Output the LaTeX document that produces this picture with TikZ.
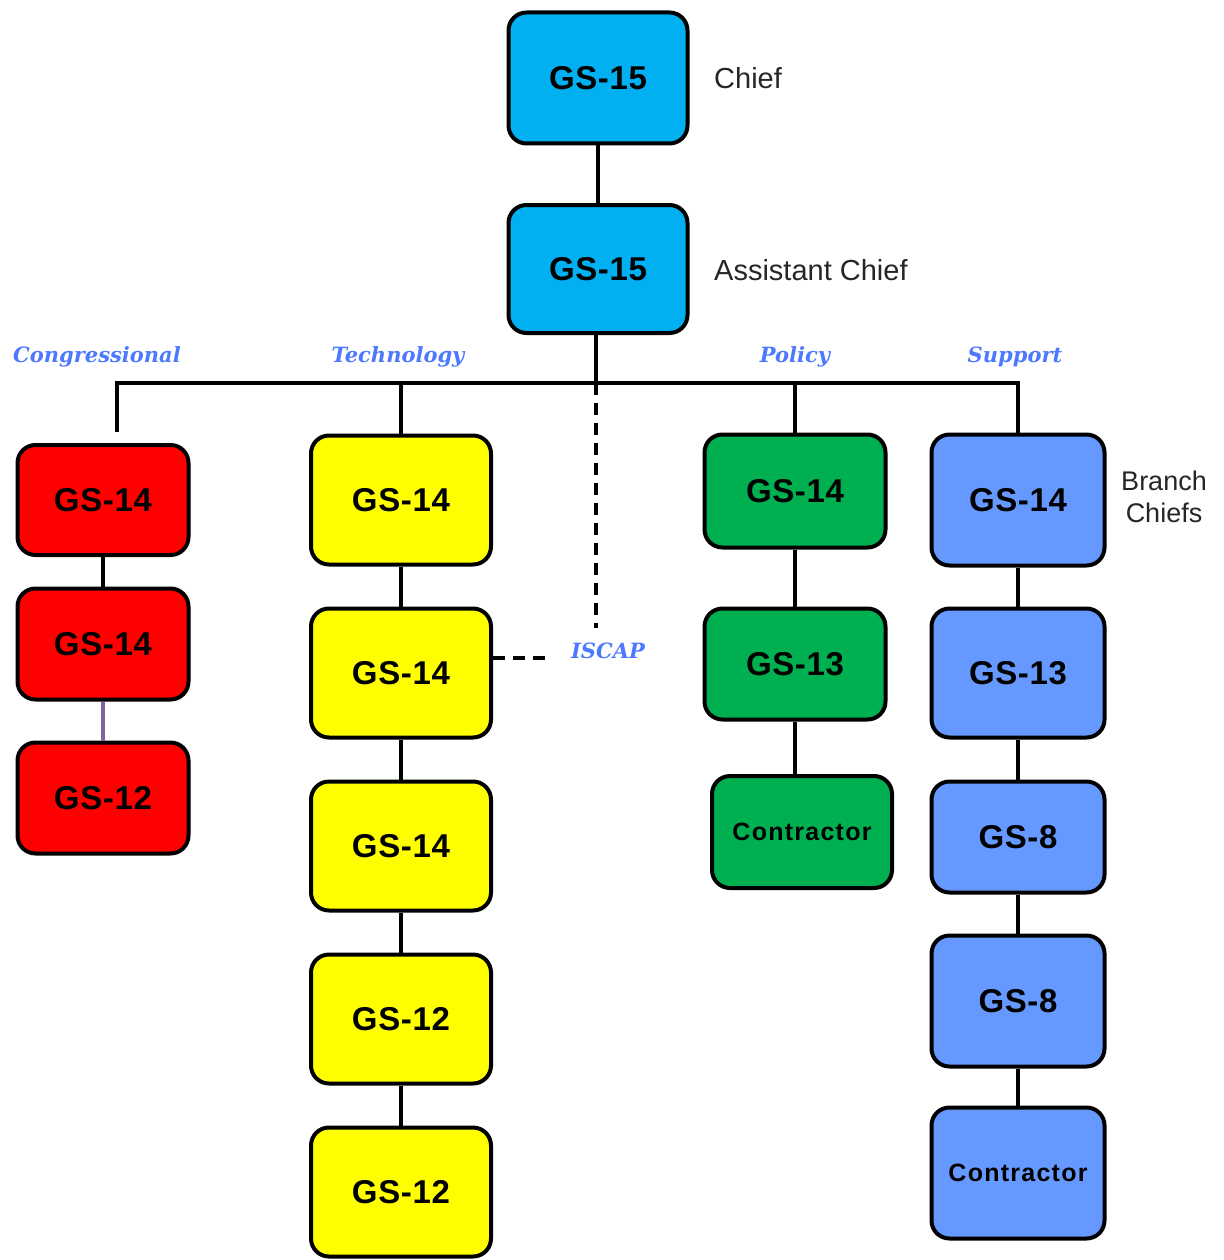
\documentclass[tikz,border=0pt]{standalone}
\usepackage{fontspec}
\setmainfont{Liberation Sans}
\newfontfamily\headfont{DejaVu Serif}
\usetikzlibrary{calc}
\definecolor{chiefblue}{HTML}{00B0F0}
\definecolor{cred}{HTML}{FF0000}
\definecolor{cyellow}{HTML}{FFFF00}
\definecolor{cgreen}{HTML}{00B050}
\definecolor{cblue}{HTML}{6699FF}
\definecolor{headblue}{HTML}{4D79FF}
\definecolor{lilac}{HTML}{8064A2}
\definecolor{labelgray}{HTML}{262626}
\begin{document}
\begin{tikzpicture}[x=1pt,y=-1pt,
  gradebox/.style={draw=black, line width=4pt, rounded corners=18pt,
    inner sep=0pt, align=center,
    font=\fontsize{33}{38}\selectfont\bfseries\addfontfeature{LetterSpace=2}},
  smalltext/.style={font=\fontsize{25}{30}\selectfont\bfseries\addfontfeature{LetterSpace=5}},
  link/.style={line width=4pt, black},
  dashlink/.style={line width=4pt, black, dash pattern=on 12pt off 8pt},
  rolelabel/.style={text=labelgray, inner sep=0pt,
    font=\fontsize{29}{34}\selectfont},
  unitlabel/.style={text=headblue, inner sep=0pt,
    font=\fontsize{21}{25}\selectfont\headfont\bfseries\itshape}]
\useasboundingbox (0,0) rectangle (1223,1260);

% top of the organisation
\node[gradebox, fill=chiefblue, minimum width=179pt, minimum height=131pt] (c1) at (598,78) {GS-15};
\node[gradebox, fill=chiefblue, minimum width=179pt, minimum height=128pt] (c2) at (598,269) {GS-15};
\node[rolelabel, anchor=west] (lchief) at (714,78) {Chief};
\node[rolelabel, anchor=west] (lasst) at (714,270) {Assistant Chief};

% unit headings
\node[unitlabel] (hcong) at (97,357) {Congressional};
\node[unitlabel] (htech) at (398,357) {Technology};
\node[unitlabel] (hpol) at (795,357) {Policy};
\node[unitlabel] (hsup) at (1015,357) {Support};
\node[unitlabel] (hiscap) at (608,651) {ISCAP};

% Congressional
\node[gradebox, fill=cred, minimum width=171pt, minimum height=110pt] (r1) at (103,500) {GS-14};
\node[gradebox, fill=cred, minimum width=171pt, minimum height=111pt] (r2) at (103,644) {GS-14};
\node[gradebox, fill=cred, minimum width=171pt, minimum height=111pt] (r3) at (103,798) {GS-12};

% Technology
\node[gradebox, fill=cyellow, minimum width=180pt, minimum height=129pt] (y1) at (401,500) {GS-14};
\node[gradebox, fill=cyellow, minimum width=180pt, minimum height=129pt] (y2) at (401,673) {GS-14};
\node[gradebox, fill=cyellow, minimum width=180pt, minimum height=129pt] (y3) at (401,846) {GS-14};
\node[gradebox, fill=cyellow, minimum width=180pt, minimum height=129pt] (y4) at (401,1019) {GS-12};
\node[gradebox, fill=cyellow, minimum width=180pt, minimum height=129pt] (y5) at (401,1192) {GS-12};

% Policy
\node[gradebox, fill=cgreen, minimum width=181pt, minimum height=113pt] (g1) at (795,491) {GS-14};
\node[gradebox, fill=cgreen, minimum width=181pt, minimum height=111pt] (g2) at (795,664) {GS-13};
\node[gradebox, smalltext, fill=cgreen, minimum width=180pt, minimum height=112pt] (g3) at (802,832) {Contractor};

% Support
\node[gradebox, fill=cblue, minimum width=173pt, minimum height=131pt] (b1) at (1018,500) {GS-14};
\node[gradebox, fill=cblue, minimum width=173pt, minimum height=129pt] (b2) at (1018,673) {GS-13};
\node[gradebox, fill=cblue, minimum width=173pt, minimum height=111pt] (b3) at (1018,837) {GS-8};
\node[gradebox, fill=cblue, minimum width=173pt, minimum height=131pt] (b4) at (1018,1001) {GS-8};
\node[gradebox, smalltext, fill=cblue, minimum width=173pt, minimum height=131pt] (b5) at (1018,1173) {Contractor};
\node[rolelabel, align=center, font=\fontsize{27}{32}\selectfont] (lbranch) at (1164,497) {Branch\\Chiefs};

% bus between the chiefs and the units
\coordinate (busL) at (117,383);
\coordinate (busR) at (1018,383);
\coordinate (busM) at (596,383);
\coordinate (congEnd) at (117,432);
\coordinate (iscapTop) at (596,628);
\coordinate (iscapL) at (550,658);

\draw[link] (c1) -- (c2);
\draw[link] (c2.south -| busM) -- (busM);
\draw[link, line cap=rect] (busL) -- (busR);
\draw[link] (busL) -- (congEnd);
\draw[link] (busL -| y1.north) -- (y1.north);
\draw[link] (busL -| g1.north) -- (g1.north);
\draw[link] (busR) -- (b1.north);

% ISCAP dotted reporting lines
\draw[dashlink] (busM) -- (iscapTop);
\draw[dashlink] (y2.east |- iscapL) -- (iscapL);

% chains within each unit
\draw[link] (r1) -- (r2);
\draw[line width=4pt, lilac] (r2) -- (r3);
\draw[link] (y1) -- (y2);
\draw[link] (y2) -- (y3);
\draw[link] (y3) -- (y4);
\draw[link] (y4) -- (y5);
\draw[link] (g1) -- (g2);
\draw[link] (g2.south) -- (g2.south |- g3.north);
\draw[link] (b1) -- (b2);
\draw[link] (b2) -- (b3);
\draw[link] (b3) -- (b4);
\draw[link] (b4) -- (b5);
\end{tikzpicture}
\end{document}
